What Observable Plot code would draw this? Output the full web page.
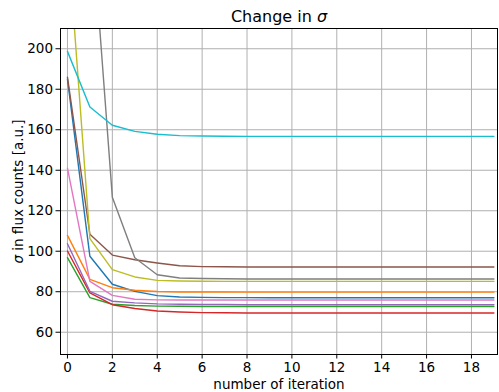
<!DOCTYPE html>
<html>
<head>
<meta charset="utf-8">
<script src="https://cdn.jsdelivr.net/npm/d3@7"></script>
<script src="https://cdn.jsdelivr.net/npm/@observablehq/plot@0.6"></script>
<style>
  html, body { margin: 0; padding: 0; background: #fff; }
  svg { display: block; }
</style>
</head>
<body>
<div id="chart"></div>
<script>
const iterations = d3.range(0, 20);
const seriesNames = ["C0", "C1", "C2", "C3", "C4", "C5", "C6", "C7", "C8", "C9"];
const seriesColors = ["#1f77b4", "#ff7f0e", "#2ca02c", "#d62728", "#9467bd", "#8c564b", "#e377c2", "#7f7f7f", "#bcbd22", "#17becf"];

const blue   = [185.0, 97.5, 83.7, 80.2, 78.1, 77.4, 77.2, 77.1, 77.1, 77.0, 77.0, 77.0, 77.0, 77.0, 77.0, 77.0, 77.0, 77.0, 77.0, 77.0];
const orange = [107.8, 86.1, 82.0, 80.7, 80.1, 79.9, 79.9, 79.9, 79.8, 79.8, 79.8, 79.8, 79.8, 79.8, 79.8, 79.8, 79.8, 79.8, 79.8, 79.8];
const green  = [96.8, 77.1, 73.8, 73.2, 72.9, 72.8, 72.7, 72.7, 72.7, 72.7, 72.7, 72.7, 72.7, 72.7, 72.7, 72.7, 72.7, 72.7, 72.7, 72.7];
const red    = [100.1, 79.4, 73.6, 71.7, 70.5, 70.0, 69.7, 69.6, 69.5, 69.5, 69.5, 69.5, 69.5, 69.5, 69.5, 69.5, 69.5, 69.5, 69.5, 69.5];
const purple = [103.7, 80.2, 75.3, 74.5, 74.0, 73.8, 73.7, 73.7, 73.6, 73.6, 73.6, 73.6, 73.6, 73.6, 73.6, 73.6, 73.6, 73.6, 73.6, 73.6];
const brown  = [186.0, 108.4, 98.1, 95.8, 94.2, 92.8, 92.4, 92.3, 92.2, 92.2, 92.2, 92.2, 92.2, 92.2, 92.2, 92.2, 92.2, 92.2, 92.2, 92.2];
const pink   = [141.0, 85.1, 78.2, 76.3, 76.0, 75.9, 75.9, 75.9, 75.9, 75.9, 75.9, 75.9, 75.9, 75.9, 75.9, 75.9, 75.9, 75.9, 75.9, 75.9];
const gray   = [400.0, 275.0, 126.7, 96.8, 88.4, 86.8, 86.5, 86.4, 86.3, 86.3, 86.3, 86.3, 86.3, 86.3, 86.3, 86.3, 86.3, 86.3, 86.3, 86.3];
const olive  = [257.0, 106.2, 90.9, 87.3, 85.6, 85.3, 85.2, 85.1, 85.1, 85.1, 85.1, 85.1, 85.1, 85.1, 85.1, 85.1, 85.1, 85.1, 85.1, 85.1];
const cyan   = [198.7, 171.2, 162.2, 159.2, 157.8, 157.1, 156.9, 156.8, 156.7, 156.7, 156.7, 156.7, 156.7, 156.7, 156.7, 156.7, 156.7, 156.7, 156.7, 156.7];

const xTicks = [0, 2, 4, 6, 8, 10, 12, 14, 16, 18];
const yTicks = [60, 80, 100, 120, 140, 160, 180, 200];

const titleText = "Change in σ";
const xLabel = "number of iteration";
const yLabel = "σ in flux counts [a.u.]";

const allSeries = [blue, orange, green, red, purple, brown, pink, gray, olive, cyan];
const data = [];
allSeries.forEach((vals, si) => {
  vals.forEach((v, i) => data.push({series: seriesNames[si], iter: iterations[i], value: v}));
});

const plot = Plot.plot({
  width: 499,
  height: 392,
  marginLeft: 60,
  marginRight: 2,
  marginTop: 28,
  marginBottom: 38,
  style: {fontFamily: "DejaVu Sans", fontSize: "13.5px", color: "black", background: "white"},
  x: {domain: [-0.31, 19.16]},
  y: {domain: [49, 210]},
  color: {domain: seriesNames, range: seriesColors},
  marks: [
    Plot.gridX(xTicks, {stroke: "#b0b0b0", strokeOpacity: 1, strokeWidth: 1}),
    Plot.gridY(yTicks, {stroke: "#b0b0b0", strokeOpacity: 1, strokeWidth: 1}),
    Plot.line(data, {x: "iter", y: "value", z: "series", stroke: "series", strokeWidth: 1.4, clip: true}),
    Plot.frame({stroke: "black", strokeWidth: 1}),
    Plot.axisX({ticks: xTicks, tickSize: 4.5, tickPadding: 3, label: xLabel, labelAnchor: "center", labelArrow: "none", labelOffset: 34}),
    Plot.axisY({ticks: yTicks, tickSize: 4.5, tickPadding: 3, label: yLabel, labelAnchor: "center", labelArrow: "none", labelOffset: 47}),
    Plot.text([titleText], {frameAnchor: "top", dy: -11.5, lineAnchor: "middle", fontSize: 16, fill: "black"})
  ]
});

// italicize sigma
d3.select(plot).selectAll("text").each(function() {
  const el = this;
  const t = el.textContent;
  if (t.includes("σ") && el.children.length === 0) {
    const parts = t.split("σ");
    el.textContent = "";
    parts.forEach((p, i) => {
      if (i > 0) {
        const s = document.createElementNS("http://www.w3.org/2000/svg", "tspan");
        s.setAttribute("font-style", "italic");
        s.textContent = "σ";
        el.appendChild(s);
      }
      if (p) el.appendChild(document.createTextNode(p));
    });
  }
});

document.getElementById("chart").appendChild(plot);
</script>
</body>
</html>
